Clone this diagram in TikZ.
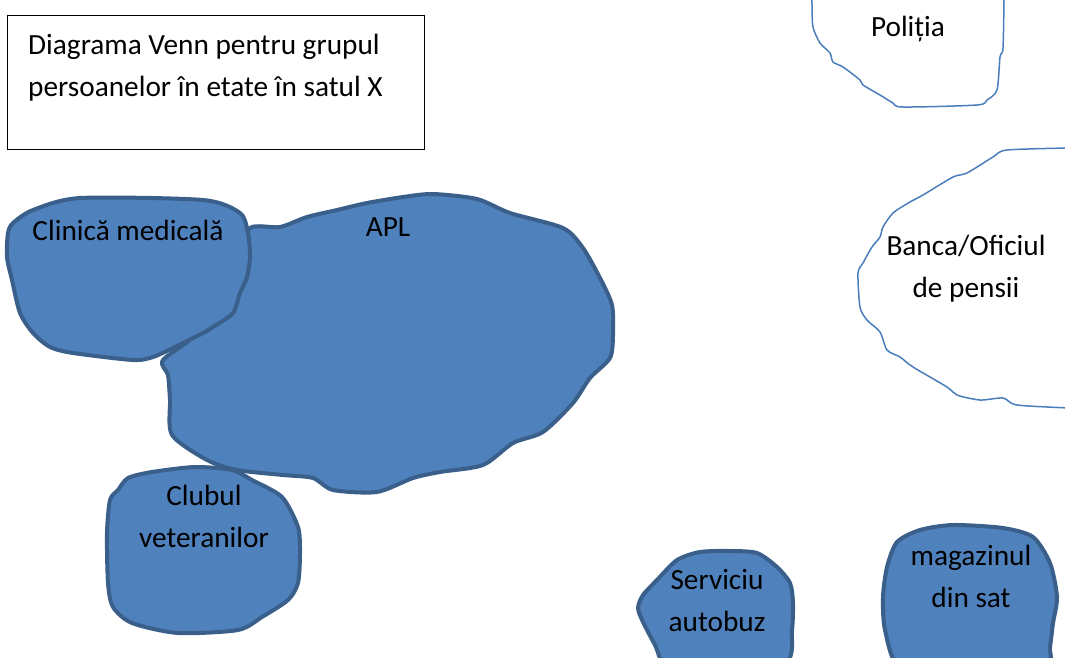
\documentclass[tikz,border=0pt]{standalone}
\usepackage{fontspec}
\setmainfont{Carlito}
\definecolor{blobfill}{HTML}{4F81BD}
\definecolor{blobline}{HTML}{3A5F8B}
\definecolor{openline}{HTML}{4A7EBB}
\begin{document}
\begin{tikzpicture}[x=1pt,y=-1pt,
  blob/.style={draw=blobline, fill=blobfill, line width=4pt, line join=round},
  openblob/.style={draw=openline, line width=1.5pt, line join=round},
  lbl/.style={font=\fontsize{29.3}{42}\selectfont, align=center, inner sep=0pt, text=black},
  titlebox/.style={draw=black, line width=1pt}]
\clip (0,0) rectangle (1065,657);
% title box
\draw[titlebox] (7,15) rectangle (424,149);
\node[lbl, align=left, anchor=north west] (title) at (28,34)
  {Diagrama Venn pentru grupul\\persoanelor în etate în satul X};
% APL
\draw[blob] plot[smooth cycle, tension=0.45] coordinates {
  (250,228) (280,227) (307,217) (337,210) (367,203) (403,197) (433,194)
  (477,199) (510,213) (563,228) (583,248) (600,278) (612,305) (613,335)
  (610,358) (590,378) (573,403) (543,432) (513,443) (483,465) (440,472)
  (413,478) (377,492) (333,490) (313,478) (283,475) (237,470) (207,460)
  (172,435) (170,400) (168,375) (163,360) (200,330) (240,260)};
% Clinica
\draw[blob] plot[smooth cycle, tension=0.45] coordinates {
  (13,223) (33,210) (80,198) (203,200) (240,213) (248,233) (250,257)
  (247,277) (240,293) (233,313) (213,327) (203,333) (173,348) (153,357)
  (133,360) (73,353) (50,347) (33,333) (20,313) (12,280) (7,257) (8,233)};
% Clubul
\draw[blob] plot[smooth cycle, tension=0.45] coordinates {
  (118,490) (128,478) (152,472) (195,467) (232,470) (252,480) (282,497)
  (298,527) (300,553) (298,583) (288,600) (262,617) (238,630) (178,633)
  (132,623) (113,607) (108,583) (107,533) (110,500)};
% Serviciu
\draw[blob] plot[smooth cycle, tension=0.45] coordinates {
  (638,608) (643,595) (657,580) (677,560) (700,552) (730,551) (757,553)
  (777,567) (790,583) (793,603) (792,630) (786,662) (720,672) (668,668)
  (655,645) (643,622)};
% magazinul
\draw[blob] plot[smooth cycle, tension=0.45] coordinates {
  (887,567) (897,542) (920,530) (953,525) (1003,528) (1033,537) (1050,563)
  (1057,597) (1053,623) (1050,647) (1045,672) (960,678) (900,668) (885,630)
  (883,597)};
% Politia
\draw[openblob] plot[smooth, tension=0.45] coordinates {
  (812,-5) (812,5) (813,27) (820,43) (830,53) (833,62) (843,67) (860,80)
  (863,85) (880,95) (893,103) (903,107) (977,105) (987,100) (997,90)
  (1000,57) (1003,48) (1004,0) (1004,-5)};
% Banca
\draw[openblob] plot[smooth, tension=0.45] coordinates {
  (1070,148) (1007,150) (993,157) (967,173) (953,177) (923,195) (910,202)
  (893,213) (883,227) (880,237) (872,247) (863,263) (858,273) (860,307)
  (867,320) (880,332) (887,350) (900,357) (913,367) (947,387) (957,395)
  (980,400) (1003,398) (1017,405) (1070,408)};
% labels
\node[lbl, anchor=base] (clinica) at (128,240) {Clinică medicală};
\node[lbl, anchor=base] (apl) at (388,236) {APL};
\node[lbl] (clubul) at (204,516) {Clubul\\veteranilor};
\node[lbl] (serviciu) at (717,601) {Serviciu\\autobuz};
\node[lbl] (magazin) at (971,576) {magazinul\\din sat};
\node[lbl, anchor=base] (politia) at (908,36) {Poliția};
\node[lbl] (banca) at (966,269) {Banca/Oficiul\\de pensii};
\end{tikzpicture}
\end{document}
